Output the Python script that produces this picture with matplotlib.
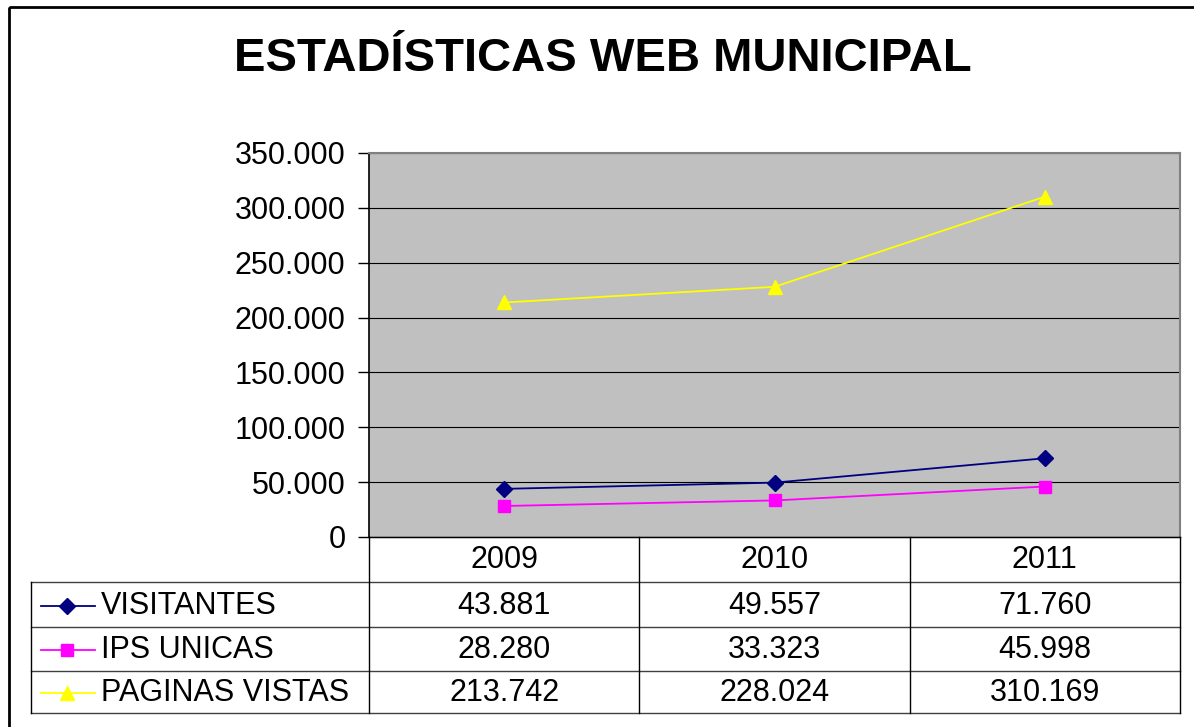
import matplotlib.pyplot as plt
import matplotlib as mpl
from matplotlib.patches import Rectangle

mpl.rcParams['font.family'] = ['Liberation Sans', 'DejaVu Sans']

# Data
years = ['2009', '2010', '2011']
visitantes = [43881, 49557, 71760]
ips_unicas = [28280, 33323, 45998]
paginas_vistas = [213742, 228024, 310169]
series_names = ['VISITANTES', 'IPS UNICAS', 'PAGINAS VISTAS']
yticks = [0, 50000, 100000, 150000, 200000, 250000, 300000, 350000]

series = [visitantes, ips_unicas, paginas_vistas]
colors = ['#000080', '#FF00FF', '#FFFF00']
markers = ['D', 's', '^']
msizes = [8, 8, 10]
FS = 22


def fmt(v):
    return f"{v:,}".replace(",", ".")


W, H = 1194, 727
fig = plt.figure(figsize=(W / 100, H / 100), dpi=100)

# pixel layout
px_l, px_r, px_t, px_b = 369, 1180, 153, 537
ax = fig.add_axes([px_l / W, 1 - px_b / H, (px_r - px_l) / W, (px_b - px_t) / H])
ax.set_facecolor('#C0C0C0')
x = list(range(len(years)))
for vals, c, m, ms, name in zip(series, colors, markers, msizes, series_names):
    ax.plot(x, vals, color=c, lw=1.3, marker=m, markersize=ms,
            markeredgecolor=c, label=name, zorder=3)
ax.set_xlim(-0.5, len(years) - 0.5)
ax.set_ylim(0, 350000)
ax.set_yticks(yticks)
ax.set_yticklabels([fmt(v) if v else '0' for v in yticks], fontsize=FS)
ax.set_xticks([])
ax.grid(axis='y', color='black', lw=0.8)
ax.set_axisbelow(True)
ax.tick_params(axis='y', direction='out', length=8, width=1, pad=9)
ax.spines['left'].set_color('black')
ax.spines['left'].set_linewidth(1.2)
ax.spines['bottom'].set_color('black')
for s in ['top', 'right']:
    ax.spines[s].set_color('#808080')
    ax.spines[s].set_linewidth(1.5)

# overlay for the data table and frame
ov = fig.add_axes([0, 0, 1, 1])
ov.set_xlim(0, W)
ov.set_ylim(H, 0)
ov.axis('off')
ov.patch.set_visible(False)

ov.add_patch(Rectangle((9, 7), W + 20, H + 20, fill=False, ec='black', lw=2))

fig.text(603 / W, 1 - 59 / H, 'ESTADÍSTICAS WEB MUNICIPAL', fontsize=34,
         fontweight='bold', ha='center', va='center')

row_y = [537, 582, 627, 671, 713]
col_w = (px_r - px_l) / len(years)
col_x = [px_l + i * col_w for i in range(len(years) + 1)]
tl = 31

# horizontal lines
ov.plot([px_l, px_r], [row_y[0], row_y[0]], color='black', lw=1)
for yy in row_y[1:]:
    ov.plot([tl, px_r], [yy, yy], color='#404040', lw=1)
# vertical lines
for xx in col_x:
    ov.plot([xx, xx], [row_y[0], row_y[-1]], color='black', lw=1)
ov.plot([tl, tl], [row_y[1], row_y[-1]], color='black', lw=1)

# header years
for i, yr in enumerate(years):
    ov.text(col_x[i] + col_w / 2, (row_y[0] + row_y[1]) / 2 + 1, yr,
            fontsize=FS, ha='center', va='center')

# rows
for r, (vals, c, m, ms, name) in enumerate(zip(series, colors, markers, msizes, series_names)):
    yc = (row_y[r + 1] + row_y[r + 2]) / 2 + 1
    ov.plot([41, 95], [yc, yc], color=c, lw=1.3)
    ov.plot([67], [yc], marker=m, color=c, markersize=ms, markeredgecolor=c)
    ov.text(101, yc, name, fontsize=FS, ha='left', va='center')
    for i, v in enumerate(vals):
        ov.text(col_x[i] + col_w / 2, yc, fmt(v), fontsize=FS,
                ha='center', va='center')

fig.savefig('out.png', dpi=100)
